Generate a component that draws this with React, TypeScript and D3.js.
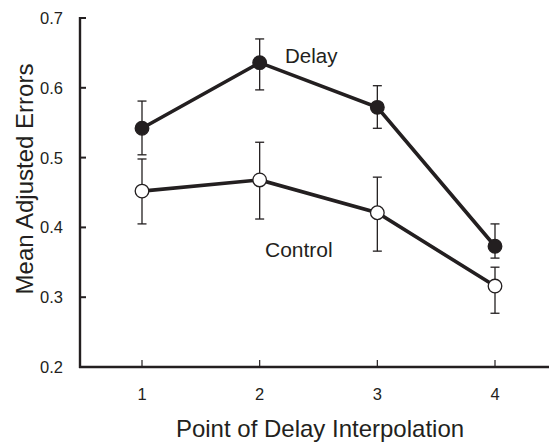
import React from "react";
import * as d3 from "d3";

const points = [1, 2, 3, 4];
const delayMean = [0.542, 0.636, 0.572, 0.373];
const delayUpper = [0.581, 0.670, 0.603, 0.405];
const delayLower = [0.504, 0.597, 0.542, 0.356];
const controlMean = [0.452, 0.468, 0.421, 0.316];
const controlUpper = [0.498, 0.522, 0.472, 0.343];
const controlLower = [0.405, 0.412, 0.366, 0.277];
const yTicks = [0.2, 0.3, 0.4, 0.5, 0.6, 0.7];
const xTicks = [1, 2, 3, 4];

const W = 549;
const H = 442;
const ink = "#231f20";
const font = "'Liberation Sans', Arial, Helvetica, sans-serif";

export default function App() {
  const x = d3.scaleLinear().domain([1, 4]).range([142, 495]);
  const y = d3.scaleLinear().domain([0.2, 0.7]).range([367, 18]);
  const axisLeft = 80;
  const line = d3
    .line<number>()
    .x((_, i) => x(points[i]))
    .y((d) => y(d));

  const series = [
    { mean: delayMean, up: delayUpper, lo: delayLower, fill: ink },
    { mean: controlMean, up: controlUpper, lo: controlLower, fill: "#fff" },
  ];
  const cap = 4.5;

  return (
    <svg
      width={W}
      height={H}
      style={{ position: "absolute", left: 0, top: 0, background: "#fff" }}
      fontFamily={font}
    >
      {/* axes */}
      <line x1={axisLeft} x2={axisLeft} y1={y(0.7) - 1} y2={y(0.2) + 1} stroke={ink} strokeWidth={2.4} />
      <line x1={axisLeft - 1} x2={W} y1={y(0.2)} y2={y(0.2)} stroke={ink} strokeWidth={2.4} />
      {yTicks.map((t) => (
        <g key={t}>
          <line x1={axisLeft} x2={axisLeft + 6} y1={y(t)} y2={y(t)} stroke={ink} strokeWidth={2} />
          <text x={63} y={y(t) + 6} textAnchor="end" fontSize={16.5} fill={ink}>
            {t.toFixed(1)}
          </text>
        </g>
      ))}
      {xTicks.map((t) => (
        <g key={t}>
          <line x1={x(t)} x2={x(t)} y1={y(0.2)} y2={y(0.2) - 7} stroke={ink} strokeWidth={1.2} />
          <text x={x(t)} y={400} textAnchor="middle" fontSize={16.5} fill={ink}>
            {t}
          </text>
        </g>
      ))}
      <text x={320} y={437} textAnchor="middle" fontSize={24} fill={ink}>
        Point of Delay Interpolation
      </text>
      <text
        transform={`translate(33,179) rotate(-90)`}
        textAnchor="middle"
        fontSize={24}
        fill={ink}
      >
        Mean Adjusted Errors
      </text>

      {/* error bars */}
      {series.map((s, si) =>
        points.map((p, i) => (
          <g key={`e${si}-${i}`} stroke={ink} strokeWidth={1.3}>
            <line x1={x(p)} x2={x(p)} y1={y(s.up[i])} y2={y(s.lo[i])} />
            <line x1={x(p) - cap} x2={x(p) + cap} y1={y(s.up[i])} y2={y(s.up[i])} />
            <line x1={x(p) - cap} x2={x(p) + cap} y1={y(s.lo[i])} y2={y(s.lo[i])} />
          </g>
        ))
      )}

      {/* lines */}
      {series.map((s, si) => (
        <path key={`l${si}`} d={line(s.mean) || ""} fill="none" stroke={ink} strokeWidth={3.6} />
      ))}

      {/* markers */}
      {series.map((s, si) =>
        points.map((p, i) => (
          <circle
            key={`m${si}-${i}`}
            cx={x(p)}
            cy={y(s.mean[i])}
            r={6.8}
            fill={s.fill}
            stroke={ink}
            strokeWidth={1.3}
          />
        ))
      )}

      <text x={285} y={63} fontSize={20.5} fill={ink}>
        Delay
      </text>
      <text x={265} y={257} fontSize={21} fill={ink}>
        Control
      </text>
    </svg>
  );
}
